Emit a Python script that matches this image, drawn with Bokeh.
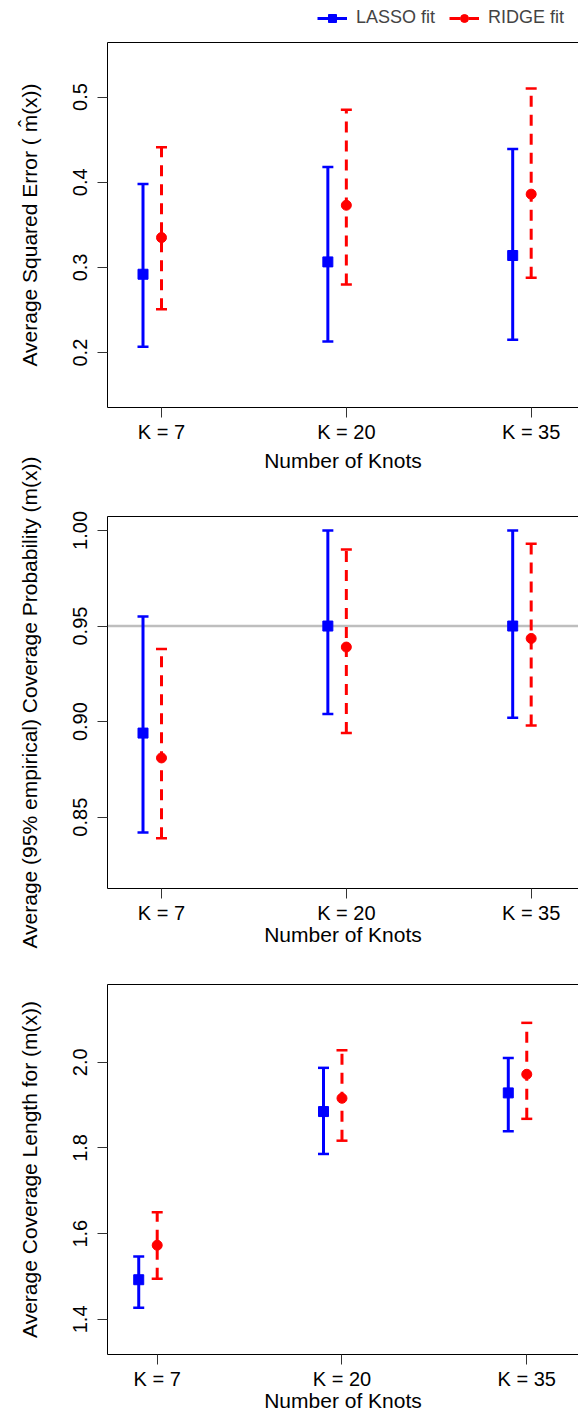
from bokeh.plotting import figure
from bokeh.models import (ColumnDataSource, Range1d, FixedTicker, LinearAxis,
                          Legend, LegendItem, Span, NumeralTickFormatter)
from bokeh.layouts import column
from bokeh.embed import file_html
from bokeh.resources import INLINE
from bokeh.transform import dodge

FONT = "Liberation Sans"
BLUE = "#0000FF"
RED = "#FF0000"
W = 578

# ---- data ----
knot_pos = [1, 2, 3]
knot_labels = ["K = 7", "K = 20", "K = 35"]
x_title = "Number of Knots"
series_names = ["LASSO fit", "RIDGE fit"]

ase_lasso = [0.292, 0.3065, 0.314]
ase_lasso_lo = [0.207, 0.213, 0.215]
ase_lasso_hi = [0.398, 0.418, 0.439]
ase_ridge = [0.335, 0.373, 0.386]
ase_ridge_lo = [0.251, 0.280, 0.288]
ase_ridge_hi = [0.441, 0.485, 0.510]

cov_lasso = [0.894, 0.950, 0.950]
cov_lasso_lo = [0.842, 0.904, 0.902]
cov_lasso_hi = [0.955, 1.000, 1.000]
cov_ridge = [0.881, 0.939, 0.9435]
cov_ridge_lo = [0.839, 0.894, 0.898]
cov_ridge_hi = [0.938, 0.990, 0.993]

len_lasso = [1.4925, 1.885, 1.9285]
len_lasso_lo = [1.427, 1.786, 1.839]
len_lasso_hi = [1.5465, 1.987, 2.010]
len_ridge = [1.573, 1.916, 1.972]
len_ridge_lo = [1.495, 1.817, 1.868]
len_ridge_hi = [1.650, 2.028, 2.092]

ase_ticks = [0.2, 0.3, 0.4, 0.5]
cov_ticks = [0.85, 0.90, 0.95, 1.00]
len_ticks = [1.4, 1.6, 1.8, 2.0]
nominal_coverage = 0.95


def style_axis(ax):
    ax.axis_line_color = "black"
    ax.axis_line_width = 1
    ax.major_tick_line_color = "#333333"
    ax.major_tick_line_width = 1
    ax.major_tick_out = 10
    ax.major_tick_in = 0
    ax.minor_tick_line_color = None
    ax.major_label_text_font = FONT
    ax.major_label_text_font_size = "20px"
    ax.major_label_text_color = "black"
    ax.axis_label_text_font = FONT
    ax.axis_label_text_font_size = "21px"
    ax.axis_label_text_font_style = "normal"
    ax.axis_label_text_color = "black"


def make_source(lasso, lasso_lo, lasso_hi, ridge, ridge_lo, ridge_hi):
    return ColumnDataSource(dict(x=knot_pos, l=lasso, llo=lasso_lo, lhi=lasso_hi,
                                 r=ridge, rlo=ridge_lo, rhi=ridge_hi))


def draw_series(p, src):
    xl = dodge("x", -0.1, range=p.x_range)
    xr_ = dodge("x", 0.0, range=p.x_range)
    rl = p.segment(x0=xl, y0="llo", x1=xl, y1="lhi", source=src,
                   line_color=BLUE, line_width=3)
    p.scatter(x=xl, y="llo", source=src, marker="dash", size=11, line_color=BLUE, line_width=2.5)
    p.scatter(x=xl, y="lhi", source=src, marker="dash", size=11, line_color=BLUE, line_width=2.5)
    ml = p.scatter(x=xl, y="l", source=src, marker="square", size=10,
                   fill_color=BLUE, line_color=BLUE, line_width=1)
    rr = p.segment(x0=xr_, y0="rlo", x1=xr_, y1="rhi", source=src,
                   line_color=RED, line_width=3, line_dash="11 8")
    p.scatter(x=xr_, y="rlo", source=src, marker="dash", size=11, line_color=RED, line_width=2.5)
    p.scatter(x=xr_, y="rhi", source=src, marker="dash", size=11, line_color=RED, line_width=2.5)
    mr = p.scatter(x=xr_, y="r", source=src, marker="circle", size=10,
                   fill_color=RED, line_color=RED, line_width=1)
    return rl, ml, rr, mr


def make_panel(height, b_top, b_bottom, b_left, xr, yr, yticks, yfmt, ylabel, src,
               hline=None, xlabel=x_title, xlab_standoff=-4, top_label=None,
               top_label_standoff=0):
    p = figure(width=W, height=height, x_range=Range1d(*xr), y_range=Range1d(*yr),
               output_backend="svg", toolbar_location=None,
               min_border_left=b_left, min_border_right=0,
               min_border_top=b_top, min_border_bottom=b_bottom)
    p.outline_line_color = None
    p.xgrid.visible = False
    p.ygrid.visible = False

    if hline is not None:
        p.add_layout(Span(location=hline, dimension="width", line_color="#BEBEBE",
                          line_width=2.5, level="underlay"))
    draw_series(p, src)

    xa = p.xaxis[0]
    xa.ticker = FixedTicker(ticks=knot_pos)
    xa.major_label_overrides = {k: lab for k, lab in zip(knot_pos, knot_labels)}
    if xlabel:
        xa.axis_label = xlabel
    ya = p.yaxis[0]
    ya.ticker = FixedTicker(ticks=yticks)
    ya.formatter = NumeralTickFormatter(format=yfmt)
    ya.axis_label = ylabel
    ya.major_label_orientation = "parallel"
    style_axis(xa)
    style_axis(ya)
    xa.major_label_standoff = 3
    xa.axis_label_standoff = xlab_standoff
    ya.major_label_standoff = 10
    ya.axis_label_standoff = 30

    # top border of the box (plus, for panel 2, the x title of the panel above)
    top = LinearAxis(ticker=FixedTicker(ticks=[]))
    style_axis(top)
    top.major_tick_line_color = None
    top.major_tick_out = 0
    top.major_label_standoff = 0
    top.major_label_text_font_size = "0px"
    if top_label:
        top.axis_label = top_label
        top.axis_label_standoff = top_label_standoff
    p.add_layout(top, "above")
    return p


src1 = make_source(ase_lasso, ase_lasso_lo, ase_lasso_hi, ase_ridge, ase_ridge_lo, ase_ridge_hi)
src2 = make_source(cov_lasso, cov_lasso_lo, cov_lasso_hi, cov_ridge, cov_ridge_lo, cov_ridge_hi)
src3 = make_source(len_lasso, len_lasso_lo, len_lasso_hi, len_ridge, len_ridge_lo, len_ridge_hi)

# legend strip above panel 1 (its glyph renderers sit outside the visible range)
pl = figure(width=W, height=34, x_range=Range1d(0.7079, 3.256), y_range=Range1d(100, 101),
            output_backend="svg", toolbar_location=None,
            min_border_left=107, min_border_right=0, min_border_top=0, min_border_bottom=0)
pl.axis.visible = False
pl.grid.visible = False
pl.outline_line_color = None
rl, ml, rr, mr = draw_series(pl, src1)
lg = Legend(items=[LegendItem(label=series_names[0], renderers=[rl, ml]),
                   LegendItem(label=series_names[1], renderers=[rr, mr])],
            orientation="horizontal", location=(210, 6),
            glyph_width=30, glyph_height=20, label_height=20,
            label_standoff=9, spacing=14, padding=0, margin=0,
            border_line_color=None, background_fill_color=None,
            label_text_font=FONT, label_text_font_size="18px")
pl.add_layout(lg, "center")

p1 = make_panel(411, 8, 31, 107, (0.7079, 3.256), (0.1356, 0.564),
                ase_ticks, "0.0", "Average Squared Error ( m\u0302(x))", src1, xlabel=None)
p1.xaxis[0].major_label_standoff = -2

p2 = make_panel(505, 69, 62, 107, (0.7079, 3.256), (0.8127, 1.0073), cov_ticks, "0.00",
                "Average (95% empirical) Coverage Probability (m(x))", src2,
                hline=nominal_coverage, top_label=x_title, top_label_standoff=45)

p3 = make_panel(464, 34, 56, 107, (0.731, 3.28), (1.318, 2.1815), len_ticks, "0.0",
                "Average Coverage Length for (m(x))", src3)

layout = column(pl, p1, p2, p3, spacing=0)
open("out.html", "w").write(file_html(layout, INLINE))
